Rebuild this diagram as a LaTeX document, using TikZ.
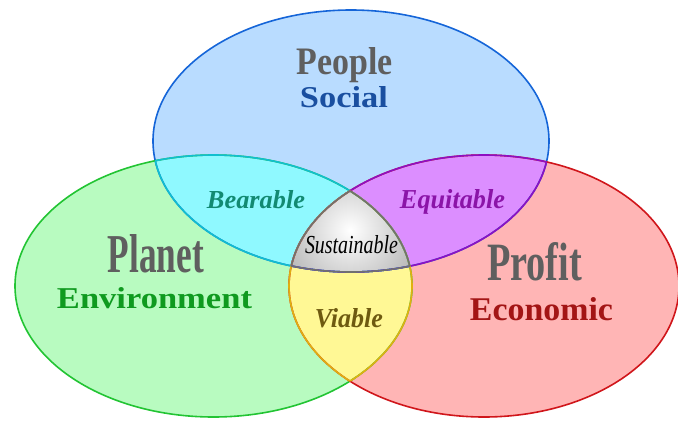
\documentclass[tikz,border=0pt]{standalone}
\usepackage{fontspec}
\setmainfont{Liberation Serif}
\definecolor{cBfill}{HTML}{B9DCFF}
\definecolor{cBline}{HTML}{1565D8}
\definecolor{cGfill}{HTML}{B8FBC0}
\definecolor{cGline}{HTML}{22C433}
\definecolor{cRfill}{HTML}{FFB5B5}
\definecolor{cRline}{HTML}{D0161B}
\definecolor{cCfill}{HTML}{8FF9FF}
\definecolor{cCline}{HTML}{11BFCF}
\definecolor{cPfill}{HTML}{DC8EFF}
\definecolor{cPline}{HTML}{8E0FC2}
\definecolor{cYfill}{HTML}{FFF895}
\definecolor{cYline}{HTML}{E0B010}
\definecolor{cSline}{HTML}{707070}
\definecolor{cSout}{HTML}{A4A4A4}
\definecolor{tgray}{HTML}{5F5F5F}
\definecolor{tsocial}{HTML}{1A4FA0}
\definecolor{tenv}{HTML}{0F9A1F}
\definecolor{tecon}{HTML}{A31515}
\definecolor{tbear}{HTML}{128A72}
\definecolor{tequi}{HTML}{8B14A8}
\definecolor{tvia}{HTML}{6E5A10}
\begin{document}
\begin{tikzpicture}[x=1pt,y=-1pt,
  eB/.style={insert path={(351,141) ellipse [x radius=198, y radius=131]}},
  eG/.style={insert path={(213.5,286) ellipse [x radius=198.5, y radius=131]}},
  eR/.style={insert path={(484,286) ellipse [x radius=195, y radius=131]}},
  lw/.style={line width=1.6pt},
  lbl/.style={inner sep=0pt, anchor=base}]
\useasboundingbox (0,0) rectangle (678,421);
% fills
\fill[cBfill, eB];
\fill[cGfill, eG];
\fill[cRfill, eR];
\begin{scope}\clip[eB]; \fill[cCfill, eG]; \fill[cPfill, eR]; \end{scope}
\begin{scope}\clip[eG]; \fill[cYfill, eR]; \end{scope}
\begin{scope}\clip[eB]; \clip[eG]; \clip[eR];
  \shade[inner color=white, outer color=cSout] (260,140) rectangle (440,320);
\end{scope}
% borders
\draw[lw, cBline, eB];
\draw[lw, cGline, eG];
\draw[lw, cRline, eR];
\begin{scope}\clip[eB]; \draw[lw, cCline, eG]; \draw[lw, cPline, eR]; \end{scope}
\begin{scope}\clip[eG]; \draw[lw, cCline, eB]; \draw[lw, cYline, eR]; \end{scope}
\begin{scope}\clip[eR]; \draw[lw, cPline, eB]; \draw[lw, cYline, eG]; \end{scope}
\begin{scope}\clip[eB]; \clip[eG]; \draw[lw, cSline, eR]; \end{scope}
\begin{scope}\clip[eB]; \clip[eR]; \draw[lw, cSline, eG]; \end{scope}
\begin{scope}\clip[eG]; \clip[eR]; \draw[lw, cSline, eB]; \end{scope}
% labels
\node[lbl] (people) at (345,74) {\resizebox{96pt}{27pt}{\color{tgray}\bfseries People}};
\node[lbl] (social) at (344,107) {\resizebox{88pt}{21pt}{\color{tsocial}\bfseries Social}};
\node[lbl] (planet) at (156,272) {\resizebox{96pt}{38pt}{\color{tgray}\bfseries Planet}};
\node[lbl] (env) at (154.5,308) {\resizebox{195pt}{21pt}{\color{tenv}\bfseries Environment}};
\node[lbl] (profit) at (534.5,280) {\resizebox{95pt}{38pt}{\color{tgray}\bfseries Profit}};
\node[lbl] (econ) at (541.5,320) {\resizebox{143pt}{23pt}{\color{tecon}\bfseries Economic}};
\node[lbl] (bear) at (256,208) {\resizebox{98pt}{18pt}{\color{tbear}\bfseries\itshape Bearable}};
\node[lbl] (equi) at (452.5,208) {\resizebox{105pt}{19pt}{\color{tequi}\bfseries\itshape Equitable}};
\node[lbl] (sust) at (351.5,253) {\resizebox{93pt}{18pt}{\color{black}\itshape Sustainable}};
\node[lbl] (via) at (349,327) {\resizebox{68pt}{19pt}{\color{tvia}\bfseries\itshape Viable}};
\end{tikzpicture}
\end{document}
